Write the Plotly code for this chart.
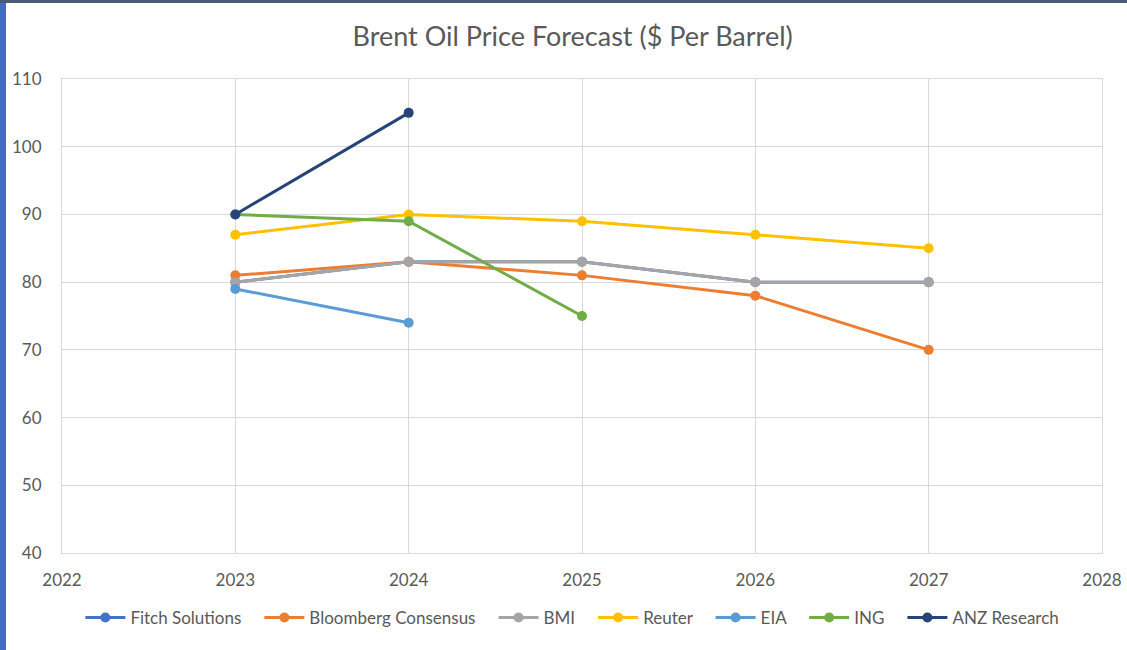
import plotly.graph_objects as go

years = [2023, 2024, 2025, 2026, 2027]

series_names = ["Fitch Solutions", "Bloomberg Consensus", "BMI", "Reuter", "EIA", "ING", "ANZ Research"]
fitch = [80, 83, 83, 80, 80]
bloomberg = [81, 83, 81, 78, 70]
bmi = [80, 83, 83, 80, 80]
reuter = [87, 90, 89, 87, 85]
eia = [79, 74]
ing = [90, 89, 75]
anz = [90, 105]

colors = ["#4472C4", "#ED7D31", "#A5A5A5", "#FFC000", "#5B9BD5", "#70AD47", "#264478"]
values = [fitch, bloomberg, bmi, reuter, eia, ing, anz]

FONT = "Lato, 'Open Sans', sans-serif"
GRID = "#d9d9d9"
PAD = "\u00a0" * 3  # widen the gaps between legend entries

fig = go.Figure()
for name, vals, col in zip(series_names, values, colors):
    fig.add_trace(go.Scatter(
        x=years[:len(vals)], y=vals, name=name + PAD, mode="lines+markers",
        line=dict(color=col, width=3), marker=dict(color=col, size=10),
    ))

# plot area 1040 x 474 px, used to place the outer frame strips
W, H = 1040, 474
L, T, B = 62, 79, 97
fig.add_shape(type="rect", xref="paper", yref="paper",
              x0=-L / W, x1=(-L + 6) / W, y0=-B / H, y1=(H + T) / H,
              fillcolor="#3f6cc4", line_width=0)
fig.add_shape(type="rect", xref="paper", yref="paper",
              x0=-L / W, x1=(W + 25) / W, y0=(H + T - 3) / H, y1=(H + T) / H,
              fillcolor="#4a5a78", line_width=0)

fig.update_layout(
    width=1127, height=650,
    margin=dict(l=L, r=25, t=T, b=B),
    paper_bgcolor="white", plot_bgcolor="white",
    font=dict(family=FONT, size=17, color="#595959"),
    title=dict(text="Brent Oil Price Forecast ($ Per Barrel)", x=0.491, xref="paper",
               y=1 - 37 / 650, yanchor="middle", font=dict(size=27, color="#595959")),
    showlegend=True,
    legend=dict(orientation="h", x=0.497, xanchor="center", y=-0.137, yanchor="middle",
                font=dict(size=17, color="#595959"), itemwidth=40, tracegroupgap=0),
    xaxis=dict(range=[2022, 2028], tick0=2022, dtick=1, showgrid=True, gridcolor=GRID,
               showline=True, linecolor=GRID, mirror=True, zeroline=False,
               ticks="", ticklabelstandoff=12, automargin=False),
    yaxis=dict(range=[40, 110], tick0=40, dtick=10, showgrid=True, gridcolor=GRID,
               showline=True, linecolor=GRID, mirror=True, zeroline=False,
               ticks="", ticklabelstandoff=16, automargin=False),
)

# drop the default body margin so the figure sits at the window's top-left corner
fig.write_html("out.html", config={"displayModeBar": False},
               post_script="document.body.style.margin='0';")
